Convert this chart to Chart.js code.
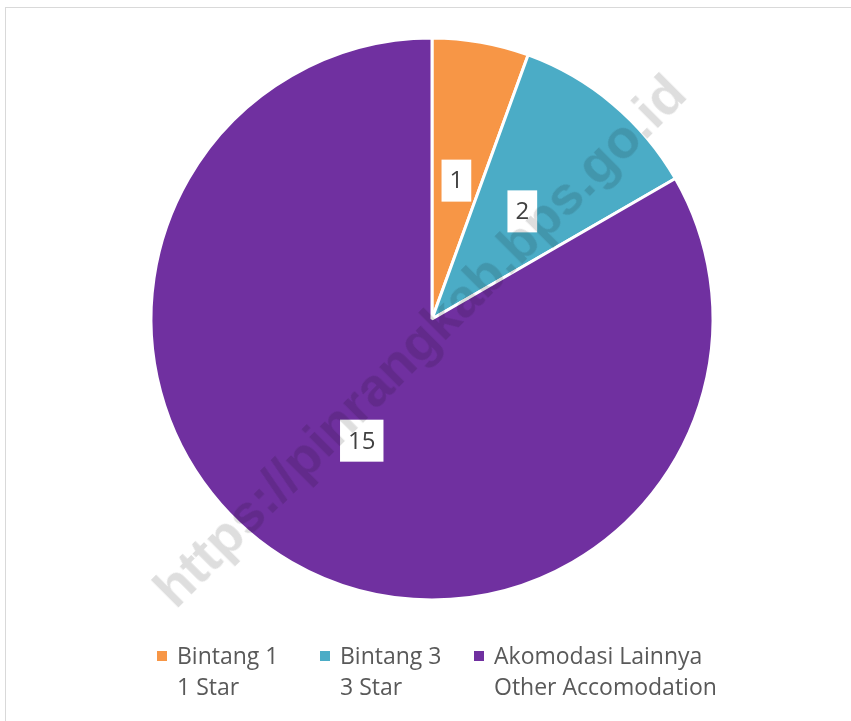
<!DOCTYPE html>
<html>
<head>
<meta charset="utf-8">
<script src="https://cdn.jsdelivr.net/npm/chart.js@4/dist/chart.umd.min.js"></script>
<style>
    html, body { margin: 0; padding: 0; background: #fff; overflow: hidden; }
    #wrap { position: relative; width: 851px; height: 721px; background: #fff; isolation: isolate; }
    #frame { position: absolute; left: 5px; top: 7px; width: 900px; height: 760px; border: 1.5px solid #d9d9d9; box-sizing: border-box; }
    #chartBox { position: absolute; left: 0; top: 0; width: 851px; height: 721px; }
    #legend { position: absolute; top: 640px; left: 0; width: 851px; font-family: 'Open Sans', 'Noto Sans', sans-serif; font-size: 23px; color: #595959; }
    .item { position: absolute; line-height: 31px; }
    .item .sw { position: absolute; left: 0; top: 11px; width: 10px; height: 10px; }
    .item .txt { margin-left: 20px; white-space: nowrap; }
    #watermark { position: absolute; left: 419px; top: 340px; transform: translate(-50%, -50%) rotate(-45deg);
        font-family: 'Liberation Sans', Arial, sans-serif; font-weight: bold; font-size: 54px;
        color: #dedede; mix-blend-mode: multiply; white-space: nowrap; pointer-events: none; }
</style>
</head>
<body>
<div id="wrap">
    <div id="frame"></div>
    <div id="chartBox"><canvas id="pieChart"></canvas></div>
    <div id="legend"></div>
    <div id="watermark">https://pinrangkab.bps.go.id</div>
</div>
<script>
// ==========================================
// DATA
// ==========================================
const labelsId = ['Bintang 1', 'Bintang 3', 'Akomodasi Lainnya'];
const labelsEn = ['1 Star', '3 Star', 'Other Accomodation'];
const values = [1, 2, 15];
const colors = ['#F79646', '#4BACC6', '#7030A0'];
const legendX = [157, 320, 474];

// white boxes with the value on each slice
const valueBoxes = {
    id: 'valueBoxes',
    afterDatasetsDraw(chart) {
        const ctx = chart.ctx;
        const meta = chart.getDatasetMeta(0);
        ctx.save();
        ctx.font = '24px "Open Sans", "Noto Sans", sans-serif';
        ctx.textAlign = 'center';
        ctx.textBaseline = 'middle';
        meta.data.forEach((arc, i) => {
            const pos = arc.tooltipPosition();
            const text = String(values[i]);
            const w = ctx.measureText(text).width + 16;
            const h = 42;
            ctx.fillStyle = '#ffffff';
            ctx.fillRect(pos.x - w / 2, pos.y - h / 2, w, h);
            ctx.fillStyle = '#404040';
            ctx.fillText(text, pos.x, pos.y + 1);
        });
        ctx.restore();
    }
};

function buildLegend() {
    const legend = document.getElementById('legend');
    labelsId.forEach((lab, i) => {
        const item = document.createElement('div');
        item.className = 'item';
        item.style.left = legendX[i] + 'px';
        item.innerHTML = `<span class="sw" style="background:${colors[i]}"></span>` +
            `<div class="txt">${lab}</div><div class="txt">${labelsEn[i]}</div>`;
        legend.appendChild(item);
    });
}

const ctx = document.getElementById('pieChart').getContext('2d');
new Chart(ctx, {
    type: 'pie',
    data: {
        labels: labelsId,
        datasets: [{
            data: values,
            backgroundColor: colors,
            borderColor: '#ffffff',
            borderWidth: 3,
            hoverOffset: 0
        }]
    },
    options: {
        responsive: true,
        maintainAspectRatio: false,
        animation: false,
        radius: 281,
        layout: { padding: { left: 13, right: 0, top: 0, bottom: 83 } },
        plugins: {
            legend: { display: false },
            tooltip: { enabled: false }
        }
    },
    plugins: [valueBoxes]
});

buildLegend();
</script>
</body>
</html>
